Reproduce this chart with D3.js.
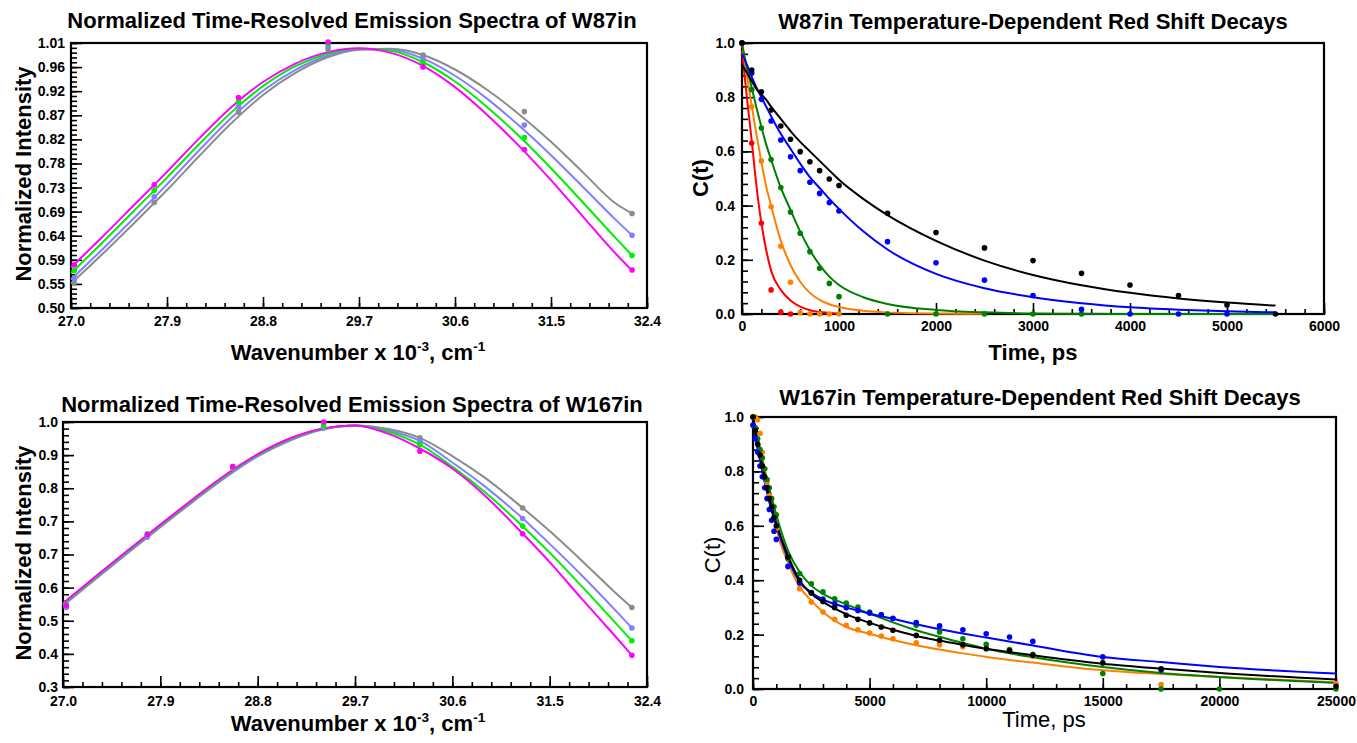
<!DOCTYPE html>
<html>
<head>
<meta charset="utf-8">
<script src="https://cdn.jsdelivr.net/npm/d3@7"></script>
<style>
    body { margin: 0; background: #fff; }
    svg text { font-family: Arial, "Liberation Sans", sans-serif; }
</style>
</head>
<body>
<svg id="chart" width="1357" height="743"></svg>
<script>
// ---- spectra (wavenumber x 10^-3 cm^-1) ----
const specX = [27.03, 27.78, 28.57, 29.41, 30.30, 31.25, 32.26];
const fitX = [27.0, 27.3, 27.6, 27.9, 28.2, 28.5, 28.8, 29.1, 29.4, 29.7, 30.0, 30.3, 30.6, 30.9, 31.2, 31.5, 31.8, 32.1, 32.26];

const spec87PtsMagenta = [0.583, 0.737, 0.905, 1.012, 0.964, 0.805, 0.573];
const spec87PtsGreen = [0.572, 0.726, 0.897, 1.008, 0.973, 0.828, 0.601];
const spec87PtsBlue = [0.557, 0.714, 0.887, 1.003, 0.981, 0.852, 0.640];
const spec87PtsGray = [0.548, 0.703, 0.877, 0.998, 0.987, 0.878, 0.682];

const spec87FitMagenta = [0.578, 0.638, 0.700, 0.762, 0.826, 0.886, 0.935, 0.970, 0.992, 1.000, 0.991, 0.966, 0.925, 0.872, 0.812, 0.746, 0.676, 0.606, 0.572];
const spec87FitGreen = [0.567, 0.627, 0.689, 0.751, 0.815, 0.876, 0.927, 0.965, 0.989, 0.999, 0.995, 0.973, 0.936, 0.887, 0.831, 0.769, 0.703, 0.636, 0.601];
const spec87FitBlue = [0.555, 0.614, 0.675, 0.738, 0.803, 0.865, 0.918, 0.958, 0.985, 0.998, 0.997, 0.980, 0.947, 0.903, 0.851, 0.794, 0.733, 0.671, 0.640];
const spec87FitGray = [0.547, 0.605, 0.665, 0.727, 0.792, 0.855, 0.910, 0.952, 0.982, 0.997, 0.999, 0.987, 0.959, 0.920, 0.873, 0.820, 0.761, 0.702, 0.682];

const spec167PtsMagenta = [0.515, 0.703, 0.882, 1.000, 0.923, 0.705, 0.384];
const spec167PtsGreen = [0.518, 0.705, 0.882, 0.990, 0.940, 0.725, 0.422];
const spec167PtsBlue = [0.512, 0.700, 0.880, 0.986, 0.950, 0.745, 0.456];
const spec167PtsGray = [0.510, 0.696, 0.879, 0.984, 0.958, 0.773, 0.510];

const spec167FitMagenta = [0.521, 0.592, 0.661, 0.729, 0.796, 0.860, 0.915, 0.957, 0.983, 0.991, 0.970, 0.930, 0.877, 0.806, 0.720, 0.630, 0.532, 0.436, 0.384];
const spec167FitGreen = [0.520, 0.590, 0.659, 0.727, 0.794, 0.858, 0.913, 0.955, 0.982, 0.991, 0.975, 0.940, 0.882, 0.815, 0.738, 0.655, 0.565, 0.472, 0.422];
const spec167FitBlue = [0.518, 0.588, 0.657, 0.725, 0.792, 0.856, 0.911, 0.953, 0.981, 0.991, 0.978, 0.950, 0.893, 0.830, 0.758, 0.678, 0.594, 0.505, 0.456];
const spec167FitGray = [0.515, 0.585, 0.654, 0.722, 0.789, 0.853, 0.909, 0.951, 0.980, 0.991, 0.982, 0.958, 0.910, 0.853, 0.785, 0.712, 0.633, 0.551, 0.510];

const spec87YLabels = ['0.50', '0.55', '0.59', '0.64', '0.69', '0.73', '0.78', '0.82', '0.87', '0.92', '0.96', '1.01'];
const spec167YLabels = ['0.3', '0.4', '0.5', '0.6', '0.7', '0.7', '0.8', '0.9', '1.0'];
const specXLabels = ['27.0', '27.9', '28.8', '29.7', '30.6', '31.5', '32.4'];

// ---- W87in decays ----
const w87T = [0, 100, 200, 300, 400, 500, 600, 700, 800, 900, 1000, 1500, 2000, 2500, 3000, 3500, 4000, 4500, 5000, 5500];
const w87Black = [1.0, 0.900, 0.820, 0.753, 0.694, 0.645, 0.599, 0.562, 0.529, 0.498, 0.474, 0.372, 0.301, 0.244, 0.197, 0.150, 0.107, 0.068, 0.033, 0.0];
const w87Blue = [1.0, 0.888, 0.792, 0.712, 0.642, 0.580, 0.529, 0.486, 0.445, 0.411, 0.380, 0.267, 0.189, 0.125, 0.068, 0.017, 0.0, 0.0, 0.0];
const w87Green = [1.0, 0.828, 0.686, 0.570, 0.467, 0.376, 0.298, 0.230, 0.169, 0.113, 0.064, 0.0, 0.0, 0.0, 0.0, 0.0];
const w87Orange = [1.0, 0.765, 0.565, 0.396, 0.250, 0.117, 0.005, 0.0, 0.0, 0.0, 0.0];
const w87Red = [1.0, 0.630, 0.335, 0.089, 0.006, 0.0];

const w87FitT = [0, 50, 100, 150, 200, 250, 300, 400, 500, 600, 700, 800, 900, 1000, 1250, 1500, 2000, 2500, 3000, 3500, 4000, 4500, 5000, 5500];
const w87FitBlack = [0.92, 0.89, 0.86, 0.83, 0.81, 0.79, 0.765, 0.72, 0.675, 0.635, 0.60, 0.565, 0.53, 0.495, 0.425, 0.365, 0.27, 0.197, 0.144, 0.106, 0.078, 0.057, 0.042, 0.031];
const w87FitBlue = [0.96, 0.92, 0.875, 0.835, 0.80, 0.765, 0.73, 0.665, 0.61, 0.555, 0.505, 0.465, 0.425, 0.388, 0.305, 0.238, 0.148, 0.095, 0.062, 0.04, 0.025, 0.016, 0.01, 0.006];
const w87FitGreen = [1.0, 0.91, 0.835, 0.76, 0.69, 0.625, 0.57, 0.466, 0.384, 0.304, 0.236, 0.181, 0.138, 0.107, 0.062, 0.037, 0.015, 0.006, 0.002, 0.001, 0, 0, 0, 0];
const w87FitOrange = [1.0, 0.88, 0.77, 0.66, 0.56, 0.47, 0.40, 0.27, 0.181, 0.119, 0.078, 0.052, 0.036, 0.026, 0.012, 0.006, 0.002, 0.001];
const w87FitRed = [0.97, 0.80, 0.64, 0.47, 0.335, 0.235, 0.16, 0.089, 0.05, 0.027, 0.014, 0.007, 0.004, 0.002];

// ---- W167in decays ----
const w167T = [0, 100, 200, 300, 400, 500, 600, 700, 800, 900, 1000, 1500, 2000, 2500, 3000, 3500, 4000, 4500, 5000, 5500, 6000, 7000, 8000, 9000, 10000, 11000, 12000, 15000, 17500, 20000, 25000];
const w167Black = [1.0, 0.95, 0.90, 0.86, 0.82, 0.78, 0.74, 0.70, 0.67, 0.63, 0.60, 0.485, 0.40, 0.353, 0.322, 0.299, 0.271, 0.256, 0.243, 0.228, 0.216, 0.197, 0.179, 0.163, 0.148, 0.14, 0.124, 0.096, 0.074, null, 0.01];
const w167Blue = [0.97, 0.92, 0.87, 0.82, 0.78, 0.74, 0.70, 0.66, 0.62, 0.58, 0.55, 0.451, 0.39, 0.355, 0.331, 0.314, 0.299, 0.289, 0.279, 0.273, 0.259, 0.244, 0.232, 0.218, 0.203, 0.191, 0.175, 0.118, 0.07, null, null];
const w167Green = [1.0, 0.96, 0.92, 0.88, 0.85, 0.81, 0.77, 0.74, 0.70, 0.67, 0.64, 0.48, 0.424, 0.387, 0.357, 0.332, 0.316, 0.301, 0.283, 0.273, 0.26, 0.234, 0.21, 0.185, 0.164, 0.145, 0.128, 0.057, 0.0, 0.0, 0.0];
const w167Orange = [1.0, 1.0, 0.99, 0.94, 0.87, 0.81, 0.76, 0.71, 0.67, 0.63, 0.59, 0.449, 0.369, 0.32, 0.283, 0.256, 0.234, 0.218, 0.206, 0.195, 0.185, 0.17, 0.163, 0.155, 0.15, 0.142, 0.12, null, 0.016, null, 0.02];

const w167FitT = [0, 250, 500, 750, 1000, 1500, 2000, 2500, 3000, 4000, 5000, 6000, 7000, 8000, 9000, 10000, 12000, 15000, 17500, 20000, 25000];
const w167FitBlack = [1.0, 0.88, 0.78, 0.69, 0.61, 0.49, 0.40, 0.35, 0.32, 0.275, 0.243, 0.218, 0.195, 0.178, 0.162, 0.148, 0.124, 0.093, 0.075, 0.059, 0.035];
const w167FitBlue = [0.97, 0.86, 0.76, 0.67, 0.60, 0.48, 0.393, 0.355, 0.329, 0.30, 0.277, 0.258, 0.238, 0.22, 0.204, 0.189, 0.16, 0.118, 0.099, 0.081, 0.057];
const w167FitGreen = [1.0, 0.90, 0.80, 0.72, 0.64, 0.51, 0.43, 0.38, 0.35, 0.311, 0.277, 0.245, 0.216, 0.192, 0.169, 0.148, 0.117, 0.081, 0.059, 0.044, 0.022];
const w167FitOrange = [1.0, 0.91, 0.81, 0.71, 0.59, 0.465, 0.375, 0.325, 0.283, 0.228, 0.203, 0.18, 0.161, 0.145, 0.131, 0.118, 0.097, 0.069, 0.055, 0.044, 0.025];

const decayYLabels = ['0.0', '0.2', '0.4', '0.6', '0.8', '1.0'];
const w87XLabels = ['0', '1000', '2000', '3000', '4000', '5000', '6000'];
const w167XLabels = ['0', '5000', '10000', '15000', '20000', '25000'];

const C = {
    magenta: '#ff00ff', lime: '#00ee00', lavender: '#8080ff', gray: '#8c8c8c',
    black: '#000000', blue: '#0000ff', green: '#008000', orange: '#ff8000', red: '#ff0000'
};

let svg = d3.select('#chart');

function drawPanel(p) {
    let x = d3.scaleLinear().domain(p.xDomain).range([p.left, p.right]);
    let y = d3.scaleLinear().domain(p.yDomain).range([p.bottom, p.top]);
    let g = svg.append('g');

    let nx = p.xLabels.length - 1, ny = p.yLabels.length - 1;
    let xMajor = d3.range(nx + 1).map(i => p.xDomain[0] + i * (p.xDomain[1] - p.xDomain[0]) / nx);
    let yMajor = d3.range(ny + 1).map(i => p.yDomain[0] + i * (p.yDomain[1] - p.yDomain[0]) / ny);
    let xMinor = d3.range(nx * p.xSub + 1).map(i => p.xDomain[0] + i * (p.xDomain[1] - p.xDomain[0]) / (nx * p.xSub));
    let yMinor = d3.range(ny * p.ySub + 1).map(i => p.yDomain[0] + i * (p.yDomain[1] - p.yDomain[0]) / (ny * p.ySub));

    function styleAxis(sel) {
        sel.select('.domain').remove();
        sel.selectAll('line').attr('stroke', '#000').attr('stroke-width', 1.6);
        sel.attr('font-size', 14).attr('font-weight', 'bold')
            .attr('font-family', 'Arial, "Liberation Sans", sans-serif');
        sel.selectAll('text').attr('fill', '#000');
    }

    g.append('g').attr('transform', `translate(0, ${p.bottom})`)
        .call(d3.axisBottom(x).tickValues(xMinor).tickFormat('').tickSizeInner(-5).tickSizeOuter(0))
        .call(styleAxis);
    g.append('g').attr('transform', `translate(0, ${p.bottom})`)
        .call(d3.axisBottom(x).tickValues(xMajor).tickFormat((d, i) => p.xLabels[i])
            .tickSizeInner(-11).tickSizeOuter(0).tickPadding(p.xPad))
        .call(styleAxis);
    g.append('g').attr('transform', `translate(${p.left}, 0)`)
        .call(d3.axisLeft(y).tickValues(yMinor).tickFormat('').tickSizeInner(-6).tickSizeOuter(0))
        .call(styleAxis);
    g.append('g').attr('transform', `translate(${p.left}, 0)`)
        .call(d3.axisLeft(y).tickValues(yMajor).tickFormat((d, i) => p.yLabels[i])
            .tickSizeInner(-11).tickSizeOuter(0).tickPadding(p.yPad))
        .call(styleAxis);

    g.append('rect')
        .attr('x', p.left).attr('y', p.top)
        .attr('width', p.right - p.left).attr('height', p.bottom - p.top)
        .attr('fill', 'none').attr('stroke', '#000').attr('stroke-width', 2.2);

    let line = d3.line()
        .defined(d => d[1] != null)
        .x(d => x(d[0])).y(d => y(d[1]))
        .curve(d3.curveMonotoneX);

    p.series.forEach(s => {
        g.append('path')
            .datum(d3.zip(s.fitX, s.fit))
            .attr('fill', 'none')
            .attr('stroke', s.color)
            .attr('stroke-width', 2)
            .attr('d', line);
    });
    p.series.forEach(s => {
        g.append('g').selectAll('circle')
            .data(d3.zip(s.ptX, s.pts).filter(d => d[1] != null))
            .join('circle')
            .attr('cx', d => x(d[0]))
            .attr('cy', d => y(d[1]))
            .attr('r', 2.8)
            .attr('fill', s.color);
    });

    // title and axis titles
    g.append('text')
        .attr('x', p.titleX).attr('y', p.titleY)
        .attr('text-anchor', 'middle')
        .attr('font-size', 22).attr('font-weight', 'bold')
        .text(p.title);

    let xt = g.append('text')
        .attr('x', p.xTitleX).attr('y', p.xTitleY)
        .attr('text-anchor', 'middle')
        .attr('font-size', p.labelSize).attr('font-weight', p.labelWeight);
    p.xTitle.forEach(part => {
        let t = xt.append('tspan').text(part.t);
        if (part.sup) t.attr('font-size', p.labelSize * 0.62).attr('dy', -9);
        else if (part.after) t.attr('dy', 9);
    });

    g.append('text')
        .attr('transform', `translate(${p.yTitleX}, ${p.yTitleY}) rotate(-90)`)
        .attr('text-anchor', 'middle')
        .attr('font-size', p.labelSize).attr('font-weight', p.labelWeight)
        .text(p.yTitle);
}

const wavenumberTitle = [
    {t: 'Wavenumber x 10'}, {t: '-3', sup: true}, {t: ', cm', after: true}, {t: '-1', sup: true}
];

drawPanel({
    left: 71, top: 43, right: 647, bottom: 308,
    xDomain: [27.0, 32.4], yDomain: [0.50, 1.01],
    xLabels: specXLabels, yLabels: spec87YLabels, xSub: 5, ySub: 5, xPad: 8, yPad: 6,
    title: 'Normalized Time-Resolved Emission Spectra of W87in', titleX: 352, titleY: 28,
    xTitle: wavenumberTitle, xTitleX: 358, xTitleY: 360,
    yTitle: 'Normalized Intensity', yTitleX: 31, yTitleY: 174,
    labelSize: 22, labelWeight: 'bold',
    series: [
        {color: C.gray, ptX: specX, pts: spec87PtsGray, fitX: fitX, fit: spec87FitGray},
        {color: C.lavender, ptX: specX, pts: spec87PtsBlue, fitX: fitX, fit: spec87FitBlue},
        {color: C.lime, ptX: specX, pts: spec87PtsGreen, fitX: fitX, fit: spec87FitGreen},
        {color: C.magenta, ptX: specX, pts: spec87PtsMagenta, fitX: fitX, fit: spec87FitMagenta}
    ]
});

drawPanel({
    left: 63, top: 422, right: 647, bottom: 687,
    xDomain: [27.0, 32.4], yDomain: [0.3, 1.0],
    xLabels: specXLabels, yLabels: spec167YLabels, xSub: 5, ySub: 5, xPad: 9, yPad: 5,
    title: 'Normalized Time-Resolved Emission Spectra of W167in', titleX: 352, titleY: 412,
    xTitle: wavenumberTitle, xTitleX: 358, xTitleY: 731,
    yTitle: 'Normalized Intensity', yTitleX: 31, yTitleY: 553,
    labelSize: 22, labelWeight: 'bold',
    series: [
        {color: C.gray, ptX: specX, pts: spec167PtsGray, fitX: fitX, fit: spec167FitGray},
        {color: C.lavender, ptX: specX, pts: spec167PtsBlue, fitX: fitX, fit: spec167FitBlue},
        {color: C.lime, ptX: specX, pts: spec167PtsGreen, fitX: fitX, fit: spec167FitGreen},
        {color: C.magenta, ptX: specX, pts: spec167PtsMagenta, fitX: fitX, fit: spec167FitMagenta}
    ]
});

drawPanel({
    left: 742, top: 43, right: 1324, bottom: 314,
    xDomain: [0, 6000], yDomain: [0, 1],
    xLabels: w87XLabels, yLabels: decayYLabels, xSub: 5, ySub: 5, xPad: 7, yPad: 7,
    title: 'W87in Temperature-Dependent Red Shift Decays', titleX: 1033, titleY: 29,
    xTitle: [{t: 'Time, ps'}], xTitleX: 1033, xTitleY: 360,
    yTitle: 'C(t)', yTitleX: 708, yTitleY: 178,
    labelSize: 22, labelWeight: 'bold',
    series: [
        {color: C.red, ptX: w87T, pts: w87Red, fitX: w87FitT, fit: w87FitRed},
        {color: C.orange, ptX: w87T, pts: w87Orange, fitX: w87FitT, fit: w87FitOrange},
        {color: C.green, ptX: w87T, pts: w87Green, fitX: w87FitT, fit: w87FitGreen},
        {color: C.blue, ptX: w87T, pts: w87Blue, fitX: w87FitT, fit: w87FitBlue},
        {color: C.black, ptX: w87T, pts: w87Black, fitX: w87FitT, fit: w87FitBlack}
    ]
});

drawPanel({
    left: 753, top: 417, right: 1336, bottom: 689,
    xDomain: [0, 25000], yDomain: [0, 1],
    xLabels: w167XLabels, yLabels: decayYLabels, xSub: 5, ySub: 5, xPad: 7, yPad: 9,
    title: 'W167in Temperature-Dependent Red Shift Decays', titleX: 1040, titleY: 405,
    xTitle: [{t: 'Time, ps'}], xTitleX: 1044, xTitleY: 727,
    yTitle: 'C(t)', yTitleX: 720, yTitleY: 555,
    labelSize: 22, labelWeight: 'normal',
    series: [
        {color: C.orange, ptX: w167T, pts: w167Orange, fitX: w167FitT, fit: w167FitOrange},
        {color: C.green, ptX: w167T, pts: w167Green, fitX: w167FitT, fit: w167FitGreen},
        {color: C.blue, ptX: w167T, pts: w167Blue, fitX: w167FitT, fit: w167FitBlue},
        {color: C.black, ptX: w167T, pts: w167Black, fitX: w167FitT, fit: w167FitBlack}
    ]
});
</script>
</body>
</html>
